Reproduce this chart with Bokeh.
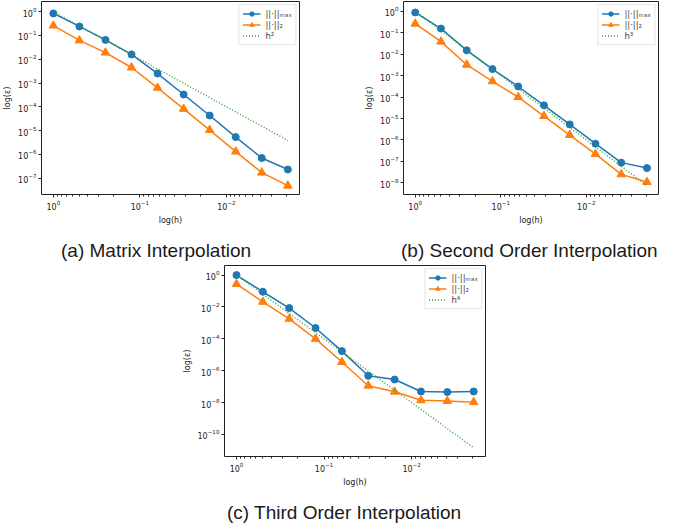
from bokeh.plotting import figure
from bokeh.layouts import column, row
from bokeh.models import Div, Spacer, Range1d, FixedTicker, LogTickFormatter, Legend
from bokeh.embed import file_html
from bokeh.resources import INLINE

# ---- data ----
h = [1, 0.5, 0.25, 0.125, 0.0625, 0.03125, 0.015625, 0.0078125, 0.00390625, 0.001953125]

a_max = [0.85, 0.24, 0.065, 0.016, 0.0025, 3.3e-4, 4.3e-5, 5.3e-6, 7.0e-7, 2.3e-7]
a_l2 = [0.26, 0.062, 0.019, 0.0045, 6.3e-4, 8.2e-5, 1.05e-5, 1.3e-6, 1.7e-7, 4.8e-8]
a_ref = [1.0, 0.25, 0.0625, 0.015625, 0.00390625, 9.77e-4, 2.44e-4, 6.1e-5, 1.53e-5, 3.81e-6]

b_max = [0.87, 0.155, 0.015, 0.002, 3.1e-4, 4.1e-5, 5.3e-6, 6.7e-7, 8.8e-8, 4.9e-8]
b_l2 = [0.26, 0.038, 3.2e-3, 5.4e-4, 1.0e-4, 1.3e-5, 1.7e-6, 2.2e-7, 2.5e-8, 1.1e-8]
b_ref = [1.0, 0.125, 0.015625, 1.95e-3, 2.44e-4, 3.05e-5, 3.81e-6, 4.77e-7, 5.96e-8, 7.45e-9]

c_max = [1.0, 0.09, 8.5e-3, 4.8e-4, 1.7e-5, 4.8e-7, 2.8e-7, 5.0e-8, 4.6e-8, 5.0e-8]
c_l2 = [0.27, 0.021, 1.8e-3, 1.0e-4, 3.5e-6, 1.15e-7, 4.8e-8, 1.4e-8, 1.25e-8, 1.07e-8]
c_ref = [1.0, 0.0625, 3.9e-3, 2.44e-4, 1.53e-5, 9.54e-7, 5.96e-8, 3.73e-9, 2.33e-10, 1.46e-11]

x_ticks = [1, 0.1, 0.01]
x_minor = [m * 10.0 ** e for e in (0, -1, -2, -3) for m in range(2, 10)]
a_yticks = [1e0, 1e-1, 1e-2, 1e-3, 1e-4, 1e-5, 1e-6, 1e-7]
b_yticks = [1e0, 1e-1, 1e-2, 1e-3, 1e-4, 1e-5, 1e-6, 1e-7, 1e-8]
c_yticks = [1e0, 1e-2, 1e-4, 1e-6, 1e-8, 1e-10]

labels = ["||·||ₘₐₓ", "||·||₂"]
captions = ["(a) Matrix Interpolation", "(b) Second Order Interpolation", "(c) Third Order Interpolation"]

BLUE, ORANGE, GREEN = "#1f77b4", "#ff7f0e", "#2ca02c"
FONT = "DejaVu Sans"


def make_plot(ymax, yl2, yref, reflabel, yticks, ylo, yhi, width, height, bl, br, bt, bb):
    p = figure(width=width, height=height, x_axis_type="log", y_axis_type="log",
               x_range=Range1d(10 ** 0.137, 10 ** -2.844), y_range=Range1d(10 ** ylo, 10 ** yhi),
               output_backend="svg", toolbar_location=None,
               min_border_left=bl, min_border_right=br, min_border_top=bt, min_border_bottom=bb)
    p.grid.visible = False
    p.outline_line_color = "#222222"
    p.outline_line_width = 1
    p.background_fill_color = "white"
    p.border_fill_color = "white"

    r1 = p.line(h, ymax, line_color=BLUE, line_width=1.5)
    r1b = p.scatter(h, ymax, marker="circle", size=7, fill_color=BLUE, line_color=BLUE)
    r2 = p.line(h, yl2, line_color=ORANGE, line_width=1.5)
    r2b = p.scatter(h, yl2, marker="triangle", size=8.5, fill_color=ORANGE, line_color=ORANGE)
    r3 = p.line(h, yref, line_color=GREEN, line_width=1.4, line_dash="1 2")

    legend = Legend(items=[(labels[0], [r1, r1b]), (labels[1], [r2, r2b]), (reflabel, [r3])],
                    location="top_right")
    legend.label_text_font = FONT
    legend.label_text_font_size = "8.5px"
    legend.label_height = 11
    legend.glyph_height = 11
    legend.glyph_width = 18
    legend.label_standoff = 5
    legend.spacing = 0
    legend.padding = 3
    legend.margin = 3
    legend.border_line_color = "#cccccc"
    legend.border_line_width = 1
    legend.background_fill_alpha = 0.9
    p.add_layout(legend)

    xa = p.xaxis[0]
    xa.ticker = FixedTicker(ticks=x_ticks, minor_ticks=x_minor)
    xa.formatter = LogTickFormatter()
    xa.axis_label = "log(h)"
    ya = p.yaxis[0]
    ya.ticker = FixedTicker(ticks=yticks, minor_ticks=[])
    ya.formatter = LogTickFormatter()
    ya.axis_label = "log(ε)"
    for ax in (xa, ya):
        ax.axis_label_text_font = FONT
        ax.axis_label_text_font_size = "8px"
        ax.axis_label_text_font_style = "normal"
        ax.axis_label_text_color = "#222222"
        ax.axis_label_standoff = 3
        ax.major_label_text_font = FONT
        ax.major_label_text_font_size = "8px"
        ax.major_label_text_color = "#222222"
        ax.major_label_standoff = 2
        ax.major_tick_in = 0
        ax.major_tick_out = 3
        ax.minor_tick_in = 0
        ax.minor_tick_out = 2
        ax.axis_line_color = None
        ax.major_tick_line_color = "#222222"
        ax.minor_tick_line_color = "#222222"
    return p


pa = make_plot(a_max, a_l2, a_ref, "h²", a_yticks, -7.69, 0.43, 332, 227, 40, 33, 1, 28)
pb = make_plot(b_max, b_l2, b_ref, "h³", b_yticks, -8.54, 0.45, 327, 227, 71, 1, 1, 28)
pc = make_plot(c_max, c_l2, c_ref, "h⁴", c_yticks, -11.38, 0.6, 326, 224, 42, 20, 0, 28)


def caption(text, width, height, pad_left, pad_top, lh):
    return Div(text=f'<div style="padding-left:{pad_left}px;padding-top:{pad_top}px;'
                    f'font-family:\'Liberation Sans\', Arial, sans-serif;font-size:19px;'
                    f'line-height:{lh}px;color:#1a1a1a;white-space:nowrap">{text}</div>',
               width=width, height=height, margin=0)


cap_ab = row(caption(captions[0], 332, 38, 61, 14, 20), caption(captions[1], 327, 38, 69, 14, 20),
             spacing=0)
row1 = row(pa, pb, spacing=0)
row2 = row(Spacer(width=179, height=224), pc, spacing=0)
cap_c = caption(captions[2], 659, 30, 227, 18, 12)

layout = column(row1, cap_ab, row2, cap_c, spacing=0)

open("out.html", "w").write(file_html(layout, INLINE))
